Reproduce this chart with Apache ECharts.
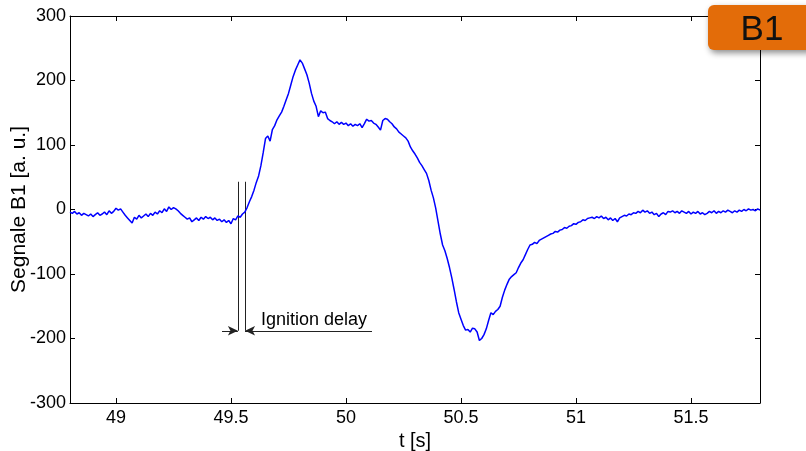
<!DOCTYPE html>
<html>
<head>
<meta charset="utf-8">
<script src="https://cdn.jsdelivr.net/npm/echarts@6/dist/echarts.min.js"></script>
<style>
html,body{margin:0;padding:0;background:#fff;}
#c{width:806px;height:451px;}
</style>
</head>
<body>
<div id="c"></div>
<script>
// ---- data ----
var sampleStart = 48.80;   // s, first sample time
var sampleStep = 0.01;     // s, sampling step
var signalB1 = [
 -4,-6,-3,-7,-5,-9,-6,-8,-10,-7,
 -11,-8,-5,-9,-7,-4,-8,-2,-6,-3,
 2,-1,1,-4,-9,-13,-17,-21,-12,-15,
 -9,-13,-10,-7,-11,-6,-9,-4,-7,-2,
 -5,1,-3,4,0,3,1,-2,-6,-9,
 -12,-15,-13,-19,-16,-13,-17,-12,-15,-11,
 -14,-12,-16,-13,-17,-15,-19,-16,-20,-17,
 -22,-14,-16,-10,-12,-7,-4,3,12,20,
 30,42,52,68,88,110,114,106,124,130,
 139,145,151,160,170,180,193,206,216,224,
 232,227,218,209,196,180,168,160,144,153,
 150,151,141,138,136,133,136,132,135,132,
 134,130,133,129,132,130,133,127,133,140,
 137,138,134,132,128,123,138,141,140,136,
 133,128,125,120,117,114,111,106,97,91,
 86,80,73,68,62,56,45,30,18,2,
 -18,-38,-55,-64,-76,-90,-106,-124,-143,-160,
 -170,-180,-187,-186,-190,-184,-185,-190,-203,-200,
 -194,-185,-172,-160,-163,-158,-155,-150,-136,-125,
 -116,-108,-104,-101,-98,-90,-83,-78,-70,-62,
 -55,-54,-51,-53,-48,-46,-44,-42,-40,-38,
 -37,-34,-35,-32,-31,-28,-29,-26,-25,-22,
 -23,-20,-19,-16,-17,-14,-13,-12,-14,-11,
 -13,-10,-14,-12,-16,-13,-17,-14,-19,-13,
 -11,-9,-10,-7,-8,-5,-6,-3,-5,-1,
 -4,-2,-6,-4,-8,-6,-11,-7,-5,-8,
 -3,-4,-2,-5,-3,-6,-2,-4,-6,-3,
 -7,-4,-6,-3,-7,-5,-8,-6,-3,-5,
 -2,-6,-3,-5,-2,-4,-1,-3,-5,-2,
 -4,-1,-3,0,-2,1,-1,0,-2,1,
 -1
];
var xTicks = [49, 49.5, 50, 50.5, 51, 51.5];
var xRange = [48.8, 51.8];
var yRange = [-300, 300];
var yStep = 100;
// ignition delay annotation (data units)
var ignitionStart = 49.530;
var ignitionEnd = 49.561;
var markerTop = 43;
var markerLevel = -188;
var arrowLeftFrom = 49.461;
var arrowRightTo = 50.113;
var annotationText = 'Ignition delay';
var annotationTextAt = [49.63, -171];
var badgeText = 'B1';

// ---- build ----
var points = signalB1.map(function (v, i) {
  return [+(sampleStart + i * sampleStep).toFixed(3), v];
});
var font = '"Liberation Sans", Arial, sans-serif';
var chart = echarts.init(document.getElementById('c'), null, {renderer: 'canvas'});
var axisLine = {show: true, onZero: false, lineStyle: {color: '#000', width: 1}};
var tickLine = {color: '#000', width: 1};
chart.setOption({
  animation: false,
  backgroundColor: '#fff',
  grid: {left: 70, right: 46, top: 16, bottom: 48, containLabel: false, outerBoundsMode: 'none'},
  xAxis: [{
    type: 'value', min: xRange[0], max: xRange[1],
    position: 'bottom',
    axisLine: axisLine,
    axisTick: {show: true, inside: true, length: 5, customValues: xTicks, lineStyle: tickLine},
    axisLabel: {customValues: xTicks, color: '#000', fontFamily: font, fontSize: 18, margin: 6},
    splitLine: {show: false},
    name: 't [s]', nameLocation: 'middle', nameGap: 28, nameMoveOverlap: false,
    nameTextStyle: {color: '#000', fontFamily: font, fontSize: 20}
  }, {
    type: 'value', min: xRange[0], max: xRange[1],
    position: 'top',
    axisLine: axisLine,
    axisTick: {show: true, inside: true, length: 5, customValues: xTicks, lineStyle: tickLine},
    axisLabel: {show: false},
    splitLine: {show: false}
  }],
  yAxis: [{
    type: 'value', min: yRange[0], max: yRange[1], interval: yStep,
    position: 'left',
    axisLine: axisLine,
    axisTick: {show: true, inside: true, length: 5, lineStyle: tickLine},
    axisLabel: {color: '#000', fontFamily: font, fontSize: 18, margin: 4},
    splitLine: {show: false},
    name: 'Segnale B1 [a. u.]', nameLocation: 'middle', nameGap: 40, nameMoveOverlap: false,
    nameTextStyle: {color: '#000', fontFamily: font, fontSize: 21}
  }, {
    type: 'value', min: yRange[0], max: yRange[1], interval: yStep,
    position: 'right',
    axisLine: axisLine,
    axisTick: {show: true, inside: true, length: 5, lineStyle: tickLine},
    axisLabel: {show: false},
    splitLine: {show: false}
  }],
  series: [{
    type: 'line',
    xAxisIndex: 0, yAxisIndex: 0,
    data: points,
    showSymbol: false,
    symbol: 'none',
    lineStyle: {color: '#0000ff', width: 1.5},
    z: 3,
    markLine: {
      silent: true,
      animation: false,
      symbol: ['none', 'none'],
      label: {show: false},
      lineStyle: {color: '#222', width: 1, type: 'solid'},
      z: 2,
      data: [
        [{coord: [ignitionStart, markerTop]}, {coord: [ignitionStart, markerLevel]}],
        [{coord: [ignitionEnd, markerTop]}, {coord: [ignitionEnd, markerLevel]}],
        [{coord: [arrowLeftFrom, markerLevel], symbol: 'none'}, {coord: [ignitionStart, markerLevel], symbol: 'arrow', symbolSize: [7, 10]}],
        [{coord: [ignitionEnd, markerLevel], symbol: 'arrow', symbolSize: [7, 10]}, {coord: [arrowRightTo, markerLevel], symbol: 'none'}]
      ]
    }
  }]
});
var txtPos = chart.convertToPixel({xAxisIndex: 0, yAxisIndex: 0}, annotationTextAt);
chart.setOption({
  graphic: [{
    type: 'text',
    x: txtPos[0], y: txtPos[1],
    style: {text: annotationText, fill: '#000', font: '18px "Liberation Sans", Arial, sans-serif', align: 'left', verticalAlign: 'middle'},
    z: 50
  }, {
    type: 'rect',
    shape: {x: 708, y: 5, width: 110, height: 45, r: 6},
    style: {fill: '#E36C09', shadowBlur: 6, shadowOffsetX: 2, shadowOffsetY: 3, shadowColor: 'rgba(0,0,0,0.45)'},
    z: 100
  }, {
    type: 'text',
    x: 762, y: 30,
    style: {text: badgeText, fill: '#111', font: '35px "Liberation Sans", Arial, sans-serif', align: 'center', verticalAlign: 'middle'},
    z: 101
  }]
});
</script>
</body>
</html>
